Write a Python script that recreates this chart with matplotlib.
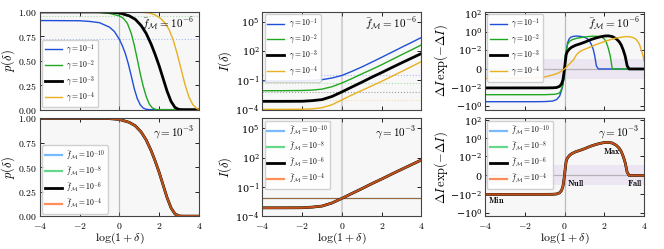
import numpy as np
import matplotlib
matplotlib.use("Agg")
import matplotlib.pyplot as plt
from matplotlib.ticker import FuncFormatter

plt.rcParams['mathtext.fontset'] = 'cm'
plt.rcParams['font.family'] = 'serif'
plt.rcParams['font.serif'] = ['DejaVu Serif']
plt.rcParams['xtick.direction'] = 'in'
plt.rcParams['ytick.direction'] = 'in'
plt.rcParams['xtick.top'] = True
plt.rcParams['ytick.right'] = True
plt.rcParams['xtick.labelsize'] = 7
plt.rcParams['ytick.labelsize'] = 7

# ---- data ----
gamma_labels = [r'$\gamma = 10^{-1}$', r'$\gamma = 10^{-2}$', r'$\gamma = 10^{-3}$', r'$\gamma = 10^{-4}$']
fM_labels = [r'$\bar{f}_{\mathcal{M}} = 10^{-10}$', r'$\bar{f}_{\mathcal{M}} = 10^{-8}$',
             r'$\bar{f}_{\mathcal{M}} = 10^{-6}$', r'$\bar{f}_{\mathcal{M}} = 10^{-4}$']
top_colors = ['#1f4fd8', '#1fa81f', 'black', '#e8b020']
bot_colors = ['#4da3ff', '#33cc66', 'black', '#ff6a22']

# p(delta)
x_p_blue = [-4, -2, -1.5, -1, -0.5, -0.25, 0, 0.15, 0.3, 0.45, 0.6, 0.75, 0.9, 1.05, 1.2, 1.35, 1.5, 4]
p_blue = [0.912, 0.91, 0.903, 0.89, 0.845, 0.80, 0.72, 0.655, 0.575, 0.47, 0.345, 0.215, 0.115, 0.05, 0.016, 0.004, 0.0, 0.0]
x_p_green = [-4, -1.5, -1, -0.5, 0, 0.2, 0.4, 0.6, 0.75, 0.9, 1.05, 1.2, 1.35, 1.5, 1.65, 1.8, 1.95, 4]
p_green = [1.0, 0.999, 0.995, 0.985, 0.96, 0.935, 0.885, 0.78, 0.66, 0.52, 0.37, 0.24, 0.135, 0.06, 0.02, 0.003, 0.0, 0.0]
x_p_black = [-4, -1, -0.5, 0, 0.5, 0.8, 1.1, 1.35, 1.6, 1.8, 2.0, 2.2, 2.4, 2.6, 2.8, 3.0, 3.2, 4]
p_black = [1.0, 1.0, 0.998, 0.99, 0.96, 0.925, 0.86, 0.78, 0.67, 0.565, 0.45, 0.32, 0.19, 0.085, 0.022, 0.002, 0.0, 0.0]
x_p_orange = [-4, 1.0, 1.5, 1.8, 2.1, 2.3, 2.5, 2.7, 2.9, 3.1, 3.3, 3.5, 3.7, 3.9, 4.0]
p_orange = [1.0, 0.998, 0.99, 0.97, 0.93, 0.885, 0.82, 0.72, 0.58, 0.42, 0.26, 0.13, 0.05, 0.01, 0.004]
p_zero = [0.72, 0.96, 0.998, 1.0]

# log10 I(delta)
x_I = [-4, -3, -2, -1.5, -1, -0.5, 0, 0.5, 1, 1.5, 2, 2.5, 3, 3.5, 4]
logI_blue = [-1.05, -1.05, -1.03, -1.0, -0.93, -0.76, -0.5, -0.08, 0.37, 0.86, 1.36, 1.87, 2.38, 2.88, 3.39]
logI_green = [-2.06, -2.06, -2.04, -2.0, -1.9, -1.65, -1.27, -0.82, -0.34, 0.12, 0.6, 1.11, 1.62, 2.12, 2.63]
logI_black = [-3.15, -3.15, -3.14, -3.08, -2.97, -2.65, -2.18, -1.68, -1.19, -0.68, -0.2, 0.3, 0.79, 1.27, 1.75]
logI_orange = [-3.97, -3.97, -3.96, -3.92, -3.8, -3.5, -3.0, -2.5, -2.03, -1.57, -1.1, -0.6, -0.1, 0.41, 0.92]
logI_zero = [-0.47, -1.25, -2.18, -3.0]

# Delta I exp(-Delta I)
x_d_blue = [-4, -1.5, -1, -0.6, -0.4, -0.25, -0.14, -0.07, 0, 0.05, 0.1, 0.15, 0.22, 0.3, 0.45, 0.6,
            0.8, 1.0, 1.15, 1.25, 1.35, 1.45, 1.52, 1.6, 1.7, 4]
d_blue = [-0.33, -0.33, -0.32, -0.28, -0.19, -0.08, -0.015, -0.003, 0, 0.003, 0.012, 0.06, 0.15, 0.25, 0.32, 0.34,
          0.32, 0.25, 0.17, 0.1, 0.04, 0.01, 0.002, 0.0003, 0, 0]
x_d_green = [-4, -1, -0.5, -0.3, -0.2, -0.1, -0.05, 0, 0.05, 0.1, 0.15, 0.25, 0.4, 0.6, 0.8, 1.0, 1.2, 1.45,
             1.7, 1.9, 2.0, 2.1, 2.2, 2.3, 2.4, 4]
d_green = [-0.055, -0.055, -0.05, -0.04, -0.024, -0.006, -0.0015, 0, 0.003, 0.012, 0.04, 0.09, 0.14, 0.19, 0.23,
           0.27, 0.3, 0.33, 0.31, 0.24, 0.16, 0.07, 0.015, 0.002, 0, 0]
x_d_black = [-4, -1, -0.6, -0.4, -0.25, -0.15, -0.08, -0.03, 0.03, 0.08, 0.14, 0.25, 0.36, 0.55, 0.78, 1.0,
             1.29, 1.55, 1.79, 2.04, 2.2, 2.4, 2.6, 2.75, 2.85, 2.95, 3.05, 3.15, 3.25, 4]
d_black = [-0.0098, -0.0097, -0.0095, -0.0088, -0.0065, -0.0035, -0.0012, -0.0004, 0.0006, 0.003, 0.0065, 0.013,
           0.02, 0.032, 0.047, 0.07, 0.13, 0.2, 0.28, 0.35, 0.36, 0.3, 0.17, 0.08, 0.035, 0.01, 0.002, 0.0003, 0, 0]
x_d_orange = [-4, -2, -1.5, -1, -0.6, -0.3, 0, 0.2, 0.45, 0.6, 0.78, 1.1, 1.6, 2.1, 2.6, 3.1, 3.4, 3.6, 3.75,
              3.85, 3.95, 4.0]
d_orange = [-0.00095, -0.00093, -0.0009, -0.0008, -0.0006, -0.0004, 0.0, 0.0004, 0.0009, 0.003, 0.007, 0.014,
            0.04, 0.1, 0.21, 0.3, 0.26, 0.15, 0.05, 0.012, 0.002, 0.0008]

x_p = [x_p_blue, x_p_green, x_p_black, x_p_orange]
p_all = [p_blue, p_green, p_black, p_orange]
logI_all = [logI_blue, logI_green, logI_black, logI_orange]
x_d = [x_d_blue, x_d_green, x_d_black, x_d_orange]
d_all = [d_blue, d_green, d_black, d_orange]

fig, axs = plt.subplots(2, 3, figsize=(6.64, 2.49), dpi=100, sharex=True)
fig.subplots_adjust(left=0.060, right=0.970, top=0.952, bottom=0.132, wspace=0.40, hspace=0.09)

xfmt = FuncFormatter(lambda v, _: r'$%g$' % v)
pfmt = FuncFormatter(lambda v, _: r'$%.2f$' % v)

for ax in axs.flat:
    ax.set_facecolor('#f7f7f7')
    ax.set_xlim(-4, 4)
    ax.set_xticks([-4, -2, 0, 2, 4])
    ax.xaxis.set_major_formatter(xfmt)
    ax.tick_params(length=3, width=0.6)
    ax.tick_params(axis='x', pad=3.5)
    ax.tick_params(axis='y', pad=2)
    for s in ax.spines.values():
        s.set_linewidth(0.8)
        s.set_color('#444444')

leg_kw = dict(fontsize=5.5, labelspacing=0.2, handlelength=2.2, handletextpad=0.6,
              borderpad=0.35, borderaxespad=0.3, framealpha=0.9, edgecolor='#cccccc', fancybox=True)
ann_kw = dict(ha='right', va='top', fontsize=8)

# ---- top row: varying gamma ----
ax = axs[0, 0]
ax.axvline(0, color='grey', lw=0.9, alpha=0.5)
for i in range(4):
    ax.axhline(p_zero[i], color=top_colors[i], lw=0.8, ls=':', alpha=0.35)
for i in range(4):
    ax.plot(x_p[i], p_all[i], color=top_colors[i], lw=2.0 if i == 2 else 1.0, label=gamma_labels[i])
ax.set_ylim(0, 1)
ax.set_yticks([0, 0.25, 0.5, 0.75, 1.0])
ax.yaxis.set_major_formatter(pfmt)
ax.set_ylabel(r'$p(\delta)$', fontsize=9, labelpad=1)
ax.legend(loc='lower left', **leg_kw)
ax.text(0.97, 0.96, r'$\bar{f}_{\mathcal{M}} = 10^{-6}$', transform=ax.transAxes, **ann_kw)

ax = axs[0, 1]
ax.axvline(0, color='grey', lw=1.5, alpha=0.3)
for i in range(4):
    ax.axhline(10 ** logI_zero[i], color=top_colors[i], lw=0.8, ls=':', alpha=0.35)
for i in range(4):
    ax.plot(x_I, [10 ** v for v in logI_all[i]], color=top_colors[i], lw=2.0 if i == 2 else 1.0,
            label=gamma_labels[i])
ax.set_yscale('log')
ax.set_ylim(1e-4, 1e6)
ax.set_yticks([1e-4, 1e-1, 1e2, 1e5])
ax.minorticks_off()
ax.set_ylabel(r'$I(\delta)$', fontsize=9, labelpad=1)
ax.legend(loc='upper left', **leg_kw)
ax.text(0.97, 0.96, r'$\bar{f}_{\mathcal{M}} = 10^{-6}$', transform=ax.transAxes, **ann_kw)

ax = axs[0, 2]
ax.set_yscale('symlog', linthresh=1e-3)
ax.axhspan(-1e-3, 1e-3, color='#b89ad6', alpha=0.18, lw=0)
ax.axhline(0, color='grey', lw=0.9, alpha=0.5)
ax.axvline(0, color='grey', lw=0.9, alpha=0.5)
for i in range(4):
    ax.plot(x_d[i], d_all[i], color=top_colors[i], lw=2.0 if i == 2 else 1.0, label=gamma_labels[i])
ax.set_ylim(-2.5, 160)
ax.set_yticks([-1, -1e-2, 0, 1e-2, 1, 1e2])
ax.minorticks_off()
ax.set_ylabel(r'$\Delta I\,\exp(-\Delta I)$', fontsize=9, labelpad=0)
ax.legend(loc='upper left', **leg_kw)
ax.text(0.97, 0.96, r'$\bar{f}_{\mathcal{M}} = 10^{-6}$', transform=ax.transAxes, **ann_kw)

# ---- bottom row: varying f_M at gamma = 1e-3 ----
ax = axs[1, 0]
ax.axvline(0, color='grey', lw=0.9, alpha=0.5)
for i in range(4):
    ax.plot(x_p_black, p_black, color=bot_colors[i], lw=2.0 if i == 2 else 1.6,
            alpha=1.0 if i == 2 else 0.75, label=fM_labels[i])
ax.set_ylim(0, 1)
ax.set_yticks([0, 0.25, 0.5, 0.75, 1.0])
ax.yaxis.set_major_formatter(pfmt)
ax.set_ylabel(r'$p(\delta)$', fontsize=9, labelpad=1)
ax.legend(loc='lower left', **leg_kw)
ax.text(0.97, 0.94, r'$\gamma = 10^{-3}$', transform=ax.transAxes, **ann_kw)

ax = axs[1, 1]
ax.axvline(0, color='grey', lw=1.5, alpha=0.3)
for i in range(4):
    ax.axhline(10 ** logI_zero[2], color=bot_colors[i], lw=0.8, alpha=0.5)
for i in range(4):
    ax.plot(x_I, [10 ** v for v in logI_black], color=bot_colors[i], lw=2.0 if i == 2 else 1.6,
            alpha=1.0 if i == 2 else 0.75, label=fM_labels[i])
ax.set_yscale('log')
ax.set_ylim(1e-4, 1e6)
ax.set_yticks([1e-4, 1e-1, 1e2, 1e5])
ax.minorticks_off()
ax.set_ylabel(r'$I(\delta)$', fontsize=9, labelpad=1)
ax.legend(loc='upper left', **leg_kw)
ax.text(0.97, 0.94, r'$\gamma = 10^{-3}$', transform=ax.transAxes, **ann_kw)

ax = axs[1, 2]
ax.set_yscale('symlog', linthresh=1e-3)
ax.axhspan(-1e-3, 1e-3, color='#b89ad6', alpha=0.18, lw=0)
ax.axhline(0, color='grey', lw=0.9, alpha=0.5)
ax.axvline(0, color='grey', lw=0.9, alpha=0.5)
for i in range(4):
    ax.plot(x_d_black, d_black, color=bot_colors[i], lw=2.0 if i == 2 else 1.6,
            alpha=1.0 if i == 2 else 0.75, label=fM_labels[i])
ax.set_ylim(-2.5, 160)
ax.set_yticks([-1, -1e-2, 0, 1e-2, 1, 1e2])
ax.minorticks_off()
ax.set_ylabel(r'$\Delta I\,\exp(-\Delta I)$', fontsize=9, labelpad=0)
ax.legend(loc='upper left', **leg_kw)
ax.text(0.97, 0.94, r'$\gamma = 10^{-3}$', transform=ax.transAxes, **ann_kw)
ax.text(-3.85, -0.045, r'$\mathbf{Min}$', fontsize=6, ha='left', va='center')
ax.text(0.12, -0.0008, r'$\mathbf{Null}$', fontsize=6, ha='left', va='center')
ax.text(1.95, 0.04, r'$\mathbf{Max}$', fontsize=6, ha='left', va='center')
ax.text(3.15, -0.0008, r'$\mathbf{Fall}$', fontsize=6, ha='left', va='center')

for ax in axs[1]:
    ax.set_xlabel(r'$\log(1+\delta)$', fontsize=8.5, labelpad=0)

fig.savefig('out.png', dpi=100)
